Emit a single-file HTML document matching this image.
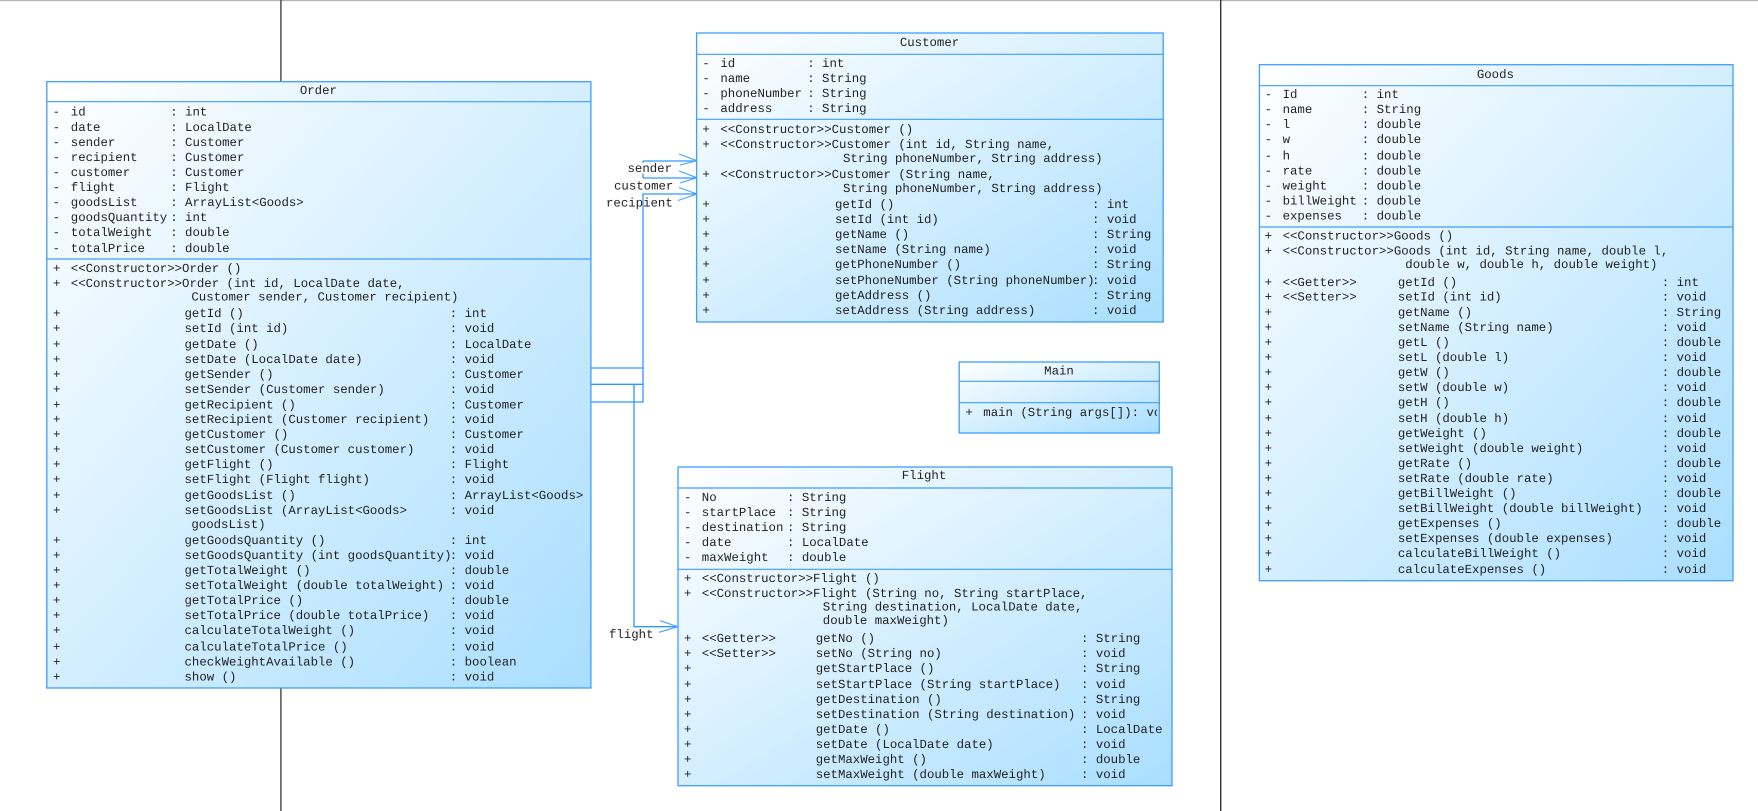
<!DOCTYPE html>
<html><head><meta charset="utf-8"><title>Class diagram</title>
<style>
html,body{margin:0;padding:0;background:#fff;width:1758px;height:811px;overflow:hidden}
svg{display:block}
text{font-family:"Liberation Mono",monospace;font-size:12.37px;fill:#222;white-space:pre;text-rendering:geometricPrecision;transform:translateY(-1px)}
.box{stroke:#3f9dff;stroke-width:1.3;fill:url(#g)}
.sep{stroke:#3f9dff;stroke-width:1.2;fill:none}
.c{stroke:#2f96ff;stroke-width:1.3;fill:none}
.a{stroke:#45a2ff;stroke-width:1.1;fill:none}
</style></head><body>
<svg width="1758" height="811" viewBox="0 0 1758 811" xmlns="http://www.w3.org/2000/svg">
<defs>
<linearGradient id="g" x1="0" y1="0" x2="1" y2="1"><stop offset="0" stop-color="#ffffff"/><stop offset="1" stop-color="#a9deff"/></linearGradient>
<clipPath id="mc"><rect x="960" y="403" width="197" height="29"/></clipPath>
</defs>
<rect width="1758" height="811" fill="#fff"/>
<rect x="0" y="0" width="1758" height="1.2" fill="#b4b4b4"/>
<rect x="280.2" y="0" width="1.4" height="811" fill="#444"/>
<rect x="1220" y="0" width="1.4" height="811" fill="#333"/>

<!-- connectors -->
<path class="c" d="M591 368H643M591 384.3H643M591 402H643V194H697M643 161V163M643 173.5V178M643 161H697M643 178H697M634 384.3V626.7H678"/>
<path class="a" d="M679 154L697 160.7L680 165M679 171L697 177.7L680 183M679 187.5L697 194L678 200.5M660 620.7L678 626.7L659 632.3"/>
<text x="627.5" y="173">sender</text>
<text x="614" y="190.5">customer</text>
<text x="606" y="207.5">recipient</text>
<text x="609" y="639">flight</text>

<!-- Order -->
<rect class="box" x="46.8" y="81.7" width="544.1" height="606.3"/>
<path class="sep" d="M46.8 101.7H590.9M46.8 259H590.9"/>
<text x="318.4" y="95" text-anchor="middle">Order</text>
<text y="116.5"><tspan x="52.6">-</tspan><tspan x="70.8">id</tspan><tspan x="170.2">: int</tspan></text>
<text y="132"><tspan x="52.6">-</tspan><tspan x="70.8">date</tspan><tspan x="170.2">: LocalDate</tspan></text>
<text y="147"><tspan x="52.6">-</tspan><tspan x="70.8">sender</tspan><tspan x="170.2">: Customer</tspan></text>
<text y="162"><tspan x="52.6">-</tspan><tspan x="70.8">recipient</tspan><tspan x="170.2">: Customer</tspan></text>
<text y="177"><tspan x="52.6">-</tspan><tspan x="70.8">customer</tspan><tspan x="170.2">: Customer</tspan></text>
<text y="192"><tspan x="52.6">-</tspan><tspan x="70.8">flight</tspan><tspan x="170.2">: Flight</tspan></text>
<text y="207"><tspan x="52.6">-</tspan><tspan x="70.8">goodsList</tspan><tspan x="170.2">: ArrayList&lt;Goods&gt;</tspan></text>
<text y="222"><tspan x="52.6">-</tspan><tspan x="70.8">goodsQuantity</tspan><tspan x="170.2">: int</tspan></text>
<text y="237"><tspan x="52.6">-</tspan><tspan x="70.8">totalWeight</tspan><tspan x="170.2">: double</tspan></text>
<text y="253"><tspan x="52.6">-</tspan><tspan x="70.8">totalPrice</tspan><tspan x="170.2">: double</tspan></text>
<text y="273"><tspan x="53">+</tspan><tspan x="70.8">&lt;&lt;Constructor&gt;&gt;Order ()</tspan></text>
<text y="288"><tspan x="53">+</tspan><tspan x="70.8">&lt;&lt;Constructor&gt;&gt;Order (int id, LocalDate date,</tspan></text>
<text y="301.5" x="191.4">Customer sender, Customer recipient)</text>
<text y="318"><tspan x="53">+</tspan><tspan x="184.5">getId ()</tspan><tspan x="449.8">: int</tspan></text>
<text y="333"><tspan x="53">+</tspan><tspan x="184.5">setId (int id)</tspan><tspan x="449.8">: void</tspan></text>
<text y="349"><tspan x="53">+</tspan><tspan x="184.5">getDate ()</tspan><tspan x="449.8">: LocalDate</tspan></text>
<text y="364"><tspan x="53">+</tspan><tspan x="184.5">setDate (LocalDate date)</tspan><tspan x="449.8">: void</tspan></text>
<text y="379"><tspan x="53">+</tspan><tspan x="184.5">getSender ()</tspan><tspan x="449.8">: Customer</tspan></text>
<text y="394"><tspan x="53">+</tspan><tspan x="184.5">setSender (Customer sender)</tspan><tspan x="449.8">: void</tspan></text>
<text y="409.5"><tspan x="53">+</tspan><tspan x="184.5">getRecipient ()</tspan><tspan x="449.8">: Customer</tspan></text>
<text y="424"><tspan x="53">+</tspan><tspan x="184.5">setRecipient (Customer recipient)</tspan><tspan x="449.8">: void</tspan></text>
<text y="439"><tspan x="53">+</tspan><tspan x="184.5">getCustomer ()</tspan><tspan x="449.8">: Customer</tspan></text>
<text y="454"><tspan x="53">+</tspan><tspan x="184.5">setCustomer (Customer customer)</tspan><tspan x="449.8">: void</tspan></text>
<text y="469"><tspan x="53">+</tspan><tspan x="184.5">getFlight ()</tspan><tspan x="449.8">: Flight</tspan></text>
<text y="484"><tspan x="53">+</tspan><tspan x="184.5">setFlight (Flight flight)</tspan><tspan x="449.8">: void</tspan></text>
<text y="500"><tspan x="53">+</tspan><tspan x="184.5">getGoodsList ()</tspan><tspan x="449.8">: ArrayList&lt;Goods&gt;</tspan></text>
<text y="515"><tspan x="53">+</tspan><tspan x="184.5">setGoodsList (ArrayList&lt;Goods&gt;</tspan><tspan x="449.8">: void</tspan></text>
<text y="529" x="191.4">goodsList)</text>
<text y="545"><tspan x="53">+</tspan><tspan x="184.5">getGoodsQuantity ()</tspan><tspan x="449.8">: int</tspan></text>
<text y="560"><tspan x="53">+</tspan><tspan x="184.5">setGoodsQuantity (int goodsQuantity)</tspan><tspan x="449.8">: void</tspan></text>
<text y="575"><tspan x="53">+</tspan><tspan x="184.5">getTotalWeight ()</tspan><tspan x="449.8">: double</tspan></text>
<text y="590"><tspan x="53">+</tspan><tspan x="184.5">setTotalWeight (double totalWeight)</tspan><tspan x="449.8">: void</tspan></text>
<text y="605"><tspan x="53">+</tspan><tspan x="184.5">getTotalPrice ()</tspan><tspan x="449.8">: double</tspan></text>
<text y="620"><tspan x="53">+</tspan><tspan x="184.5">setTotalPrice (double totalPrice)</tspan><tspan x="449.8">: void</tspan></text>
<text y="635"><tspan x="53">+</tspan><tspan x="184.5">calculateTotalWeight ()</tspan><tspan x="449.8">: void</tspan></text>
<text y="651.5"><tspan x="53">+</tspan><tspan x="184.5">calculateTotalPrice ()</tspan><tspan x="449.8">: void</tspan></text>
<text y="666.5"><tspan x="53">+</tspan><tspan x="184.5">checkWeightAvailable ()</tspan><tspan x="449.8">: boolean</tspan></text>
<text y="681.5"><tspan x="53">+</tspan><tspan x="184.5">show ()</tspan><tspan x="449.8">: void</tspan></text>

<!-- Customer -->
<rect class="box" x="696.6" y="33" width="466.6" height="289"/>
<path class="sep" d="M696.6 54.3H1163.2M696.6 119.3H1163.2"/>
<text x="929.5" y="47" text-anchor="middle">Customer</text>
<text y="68"><tspan x="702.4">-</tspan><tspan x="720.4">id</tspan><tspan x="807.2">: int</tspan></text>
<text y="83"><tspan x="702.4">-</tspan><tspan x="720.4">name</tspan><tspan x="807.2">: String</tspan></text>
<text y="98"><tspan x="702.4">-</tspan><tspan x="720.4">phoneNumber</tspan><tspan x="807.2">: String</tspan></text>
<text y="113"><tspan x="702.4">-</tspan><tspan x="720.4">address</tspan><tspan x="807.2">: String</tspan></text>
<text y="134"><tspan x="702.4">+</tspan><tspan x="720.4">&lt;&lt;Constructor&gt;&gt;Customer ()</tspan></text>
<text y="149"><tspan x="702.4">+</tspan><tspan x="720.4">&lt;&lt;Constructor&gt;&gt;Customer (int id, String name,</tspan></text>
<text y="163" x="843">String phoneNumber, String address)</text>
<text y="179"><tspan x="702.4">+</tspan><tspan x="720.4">&lt;&lt;Constructor&gt;&gt;Customer (String name,</tspan></text>
<text y="193" x="843">String phoneNumber, String address)</text>
<text y="209"><tspan x="702.4">+</tspan><tspan x="835">getId ()</tspan><tspan x="1092">: int</tspan></text>
<text y="224"><tspan x="702.4">+</tspan><tspan x="835">setId (int id)</tspan><tspan x="1092">: void</tspan></text>
<text y="239"><tspan x="702.4">+</tspan><tspan x="835">getName ()</tspan><tspan x="1092">: String</tspan></text>
<text y="254"><tspan x="702.4">+</tspan><tspan x="835">setName (String name)</tspan><tspan x="1092">: void</tspan></text>
<text y="269"><tspan x="702.4">+</tspan><tspan x="835">getPhoneNumber ()</tspan><tspan x="1092">: String</tspan></text>
<text y="285"><tspan x="702.4">+</tspan><tspan x="835">setPhoneNumber (String phoneNumber)</tspan><tspan x="1092">: void</tspan></text>
<text y="300"><tspan x="702.4">+</tspan><tspan x="835">getAddress ()</tspan><tspan x="1092">: String</tspan></text>
<text y="315"><tspan x="702.4">+</tspan><tspan x="835">setAddress (String address)</tspan><tspan x="1092">: void</tspan></text>

<!-- Main -->
<rect class="box" x="959.2" y="362" width="200.1" height="71"/>
<path class="sep" d="M959.2 381.3H1159.3M959.2 402.7H1159.3"/>
<text x="1059" y="375.5" text-anchor="middle">Main</text>
<g clip-path="url(#mc)"><text y="417"><tspan x="965.4">+</tspan><tspan x="983.3">main (String args[]): void</tspan></text></g>

<!-- Flight -->
<rect class="box" x="678" y="467" width="494" height="318.7"/>
<path class="sep" d="M678 488H1172M678 569.3H1172"/>
<text x="924" y="480" text-anchor="middle">Flight</text>
<text y="502"><tspan x="684">-</tspan><tspan x="701.8">No</tspan><tspan x="787">: String</tspan></text>
<text y="517"><tspan x="684">-</tspan><tspan x="701.8">startPlace</tspan><tspan x="787">: String</tspan></text>
<text y="532"><tspan x="684">-</tspan><tspan x="701.8">destination</tspan><tspan x="787">: String</tspan></text>
<text y="547"><tspan x="684">-</tspan><tspan x="701.8">date</tspan><tspan x="787">: LocalDate</tspan></text>
<text y="562"><tspan x="684">-</tspan><tspan x="701.8">maxWeight</tspan><tspan x="787">: double</tspan></text>
<text y="583"><tspan x="684">+</tspan><tspan x="701.8">&lt;&lt;Constructor&gt;&gt;Flight ()</tspan></text>
<text y="598"><tspan x="684">+</tspan><tspan x="701.8">&lt;&lt;Constructor&gt;&gt;Flight (String no, String startPlace,</tspan></text>
<text y="611.5" x="822.8">String destination, LocalDate date,</text>
<text y="625" x="822.8">double maxWeight)</text>
<text y="643"><tspan x="684">+</tspan><tspan x="701.8">&lt;&lt;Getter&gt;&gt;</tspan><tspan x="815.7">getNo ()</tspan><tspan x="1081">: String</tspan></text>
<text y="658"><tspan x="684">+</tspan><tspan x="701.8">&lt;&lt;Setter&gt;&gt;</tspan><tspan x="815.7">setNo (String no)</tspan><tspan x="1081">: void</tspan></text>
<text y="673"><tspan x="684">+</tspan><tspan x="815.7">getStartPlace ()</tspan><tspan x="1081">: String</tspan></text>
<text y="689"><tspan x="684">+</tspan><tspan x="815.7">setStartPlace (String startPlace)</tspan><tspan x="1081">: void</tspan></text>
<text y="704"><tspan x="684">+</tspan><tspan x="815.7">getDestination ()</tspan><tspan x="1081">: String</tspan></text>
<text y="719"><tspan x="684">+</tspan><tspan x="815.7">setDestination (String destination)</tspan><tspan x="1081">: void</tspan></text>
<text y="734"><tspan x="684">+</tspan><tspan x="815.7">getDate ()</tspan><tspan x="1081">: LocalDate</tspan></text>
<text y="749"><tspan x="684">+</tspan><tspan x="815.7">setDate (LocalDate date)</tspan><tspan x="1081">: void</tspan></text>
<text y="764"><tspan x="684">+</tspan><tspan x="815.7">getMaxWeight ()</tspan><tspan x="1081">: double</tspan></text>
<text y="779"><tspan x="684">+</tspan><tspan x="815.7">setMaxWeight (double maxWeight)</tspan><tspan x="1081">: void</tspan></text>

<!-- Goods -->
<rect class="box" x="1259.4" y="64.7" width="473.6" height="516"/>
<path class="sep" d="M1259.4 85.7H1733M1259.4 227H1733"/>
<text x="1495.4" y="79" text-anchor="middle">Goods</text>
<text y="99"><tspan x="1264.6">-</tspan><tspan x="1282.6">Id</tspan><tspan x="1361.8">: int</tspan></text>
<text y="114"><tspan x="1264.6">-</tspan><tspan x="1282.6">name</tspan><tspan x="1361.8">: String</tspan></text>
<text y="129"><tspan x="1264.6">-</tspan><tspan x="1282.6">l</tspan><tspan x="1361.8">: double</tspan></text>
<text y="144"><tspan x="1264.6">-</tspan><tspan x="1282.6">w</tspan><tspan x="1361.8">: double</tspan></text>
<text y="160.5"><tspan x="1264.6">-</tspan><tspan x="1282.6">h</tspan><tspan x="1361.8">: double</tspan></text>
<text y="175.5"><tspan x="1264.6">-</tspan><tspan x="1282.6">rate</tspan><tspan x="1361.8">: double</tspan></text>
<text y="190.5"><tspan x="1264.6">-</tspan><tspan x="1282.6">weight</tspan><tspan x="1361.8">: double</tspan></text>
<text y="205.5"><tspan x="1264.6">-</tspan><tspan x="1282.6">billWeight</tspan><tspan x="1361.8">: double</tspan></text>
<text y="220.5"><tspan x="1264.6">-</tspan><tspan x="1282.6">expenses</tspan><tspan x="1361.8">: double</tspan></text>
<text y="240.5"><tspan x="1264.6">+</tspan><tspan x="1282.6">&lt;&lt;Constructor&gt;&gt;Goods ()</tspan></text>
<text y="255.5"><tspan x="1264.6">+</tspan><tspan x="1282.6">&lt;&lt;Constructor&gt;&gt;Goods (int id, String name, double l,</tspan></text>
<text y="269" x="1405.3">double w, double h, double weight)</text>
<text y="287"><tspan x="1264.6">+</tspan><tspan x="1282.6">&lt;&lt;Getter&gt;&gt;</tspan><tspan x="1397.9">getId ()</tspan><tspan x="1661.8">: int</tspan></text>
<text y="301.5"><tspan x="1264.6">+</tspan><tspan x="1282.6">&lt;&lt;Setter&gt;&gt;</tspan><tspan x="1397.9">setId (int id)</tspan><tspan x="1661.8">: void</tspan></text>
<text y="317"><tspan x="1264.6">+</tspan><tspan x="1397.9">getName ()</tspan><tspan x="1661.8">: String</tspan></text>
<text y="332"><tspan x="1264.6">+</tspan><tspan x="1397.9">setName (String name)</tspan><tspan x="1661.8">: void</tspan></text>
<text y="347"><tspan x="1264.6">+</tspan><tspan x="1397.9">getL ()</tspan><tspan x="1661.8">: double</tspan></text>
<text y="362"><tspan x="1264.6">+</tspan><tspan x="1397.9">setL (double l)</tspan><tspan x="1661.8">: void</tspan></text>
<text y="377"><tspan x="1264.6">+</tspan><tspan x="1397.9">getW ()</tspan><tspan x="1661.8">: double</tspan></text>
<text y="392"><tspan x="1264.6">+</tspan><tspan x="1397.9">setW (double w)</tspan><tspan x="1661.8">: void</tspan></text>
<text y="407"><tspan x="1264.6">+</tspan><tspan x="1397.9">getH ()</tspan><tspan x="1661.8">: double</tspan></text>
<text y="423"><tspan x="1264.6">+</tspan><tspan x="1397.9">setH (double h)</tspan><tspan x="1661.8">: void</tspan></text>
<text y="438"><tspan x="1264.6">+</tspan><tspan x="1397.9">getWeight ()</tspan><tspan x="1661.8">: double</tspan></text>
<text y="453"><tspan x="1264.6">+</tspan><tspan x="1397.9">setWeight (double weight)</tspan><tspan x="1661.8">: void</tspan></text>
<text y="468"><tspan x="1264.6">+</tspan><tspan x="1397.9">getRate ()</tspan><tspan x="1661.8">: double</tspan></text>
<text y="483"><tspan x="1264.6">+</tspan><tspan x="1397.9">setRate (double rate)</tspan><tspan x="1661.8">: void</tspan></text>
<text y="498"><tspan x="1264.6">+</tspan><tspan x="1397.9">getBillWeight ()</tspan><tspan x="1661.8">: double</tspan></text>
<text y="513"><tspan x="1264.6">+</tspan><tspan x="1397.9">setBillWeight (double billWeight)</tspan><tspan x="1661.8">: void</tspan></text>
<text y="528"><tspan x="1264.6">+</tspan><tspan x="1397.9">getExpenses ()</tspan><tspan x="1661.8">: double</tspan></text>
<text y="543"><tspan x="1264.6">+</tspan><tspan x="1397.9">setExpenses (double expenses)</tspan><tspan x="1661.8">: void</tspan></text>
<text y="558"><tspan x="1264.6">+</tspan><tspan x="1397.9">calculateBillWeight ()</tspan><tspan x="1661.8">: void</tspan></text>
<text y="574"><tspan x="1264.6">+</tspan><tspan x="1397.9">calculateExpenses ()</tspan><tspan x="1661.8">: void</tspan></text>
</svg>
</body></html>
